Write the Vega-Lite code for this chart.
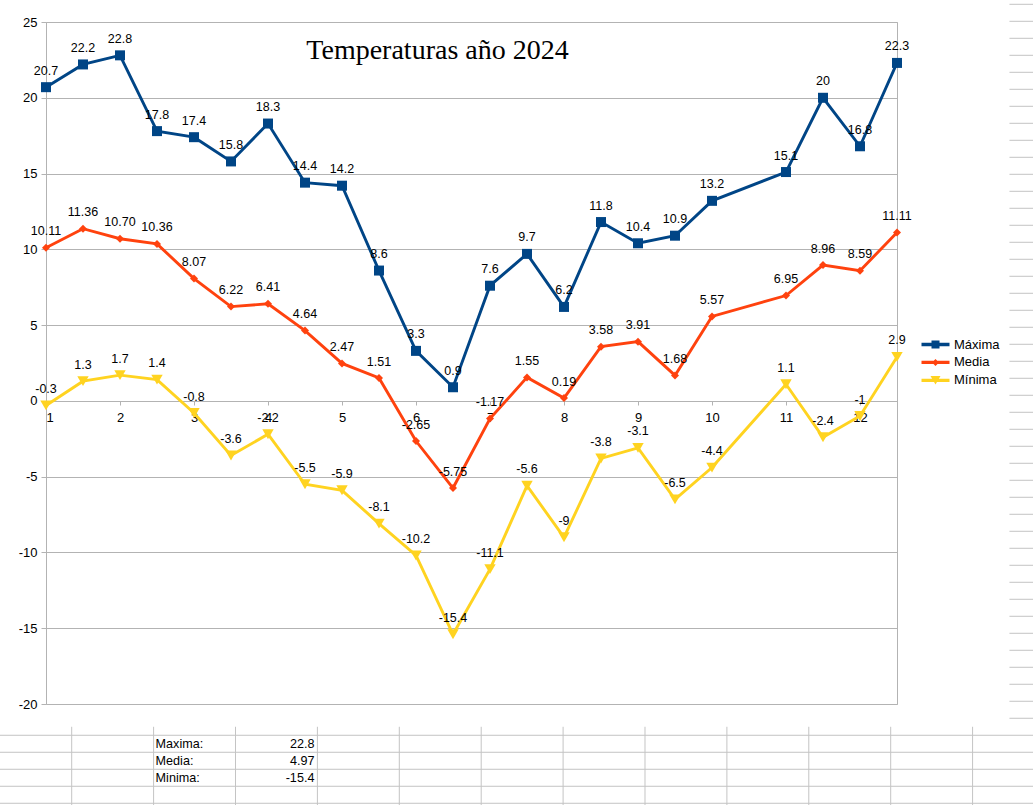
{
  "$schema": "https://vega.github.io/schema/vega-lite/v6.json",
  "width": 851,
  "height": 682,
  "autosize": {"type": "none"},
  "padding": {"left": 46, "top": 22, "right": 136, "bottom": 101},
  "background": "white",
  "title": {
    "text": "Temperaturas año 2024",
    "font": "Liberation Serif",
    "fontSize": 28,
    "fontWeight": "normal",
    "color": "#000000",
    "anchor": "middle",
    "frame": "group",
    "offset": -52,
    "dx": -34,
    "dy": 9
  },
  "layer": [
    {
      "layer": [
        {
          "data": {"values": [{"fila": 43}, {"fila": 44}, {"fila": 45}, {"fila": 46}, {"fila": 47}]},
          "mark": {"type": "rule", "color": "#c4c4c4", "strokeWidth": 1},
          "encoding": {
            "y": {"field": "fila", "type": "quantitative", "scale": {"domain": [1.041, 41.16], "reverse": true, "nice": false, "zero": false}, "axis": null},
            "x": {"datum": -1, "type": "quantitative", "scale": {"domain": [-0.3138, 10.077], "nice": false, "zero": false}, "axis": null},
            "x2": {"datum": 12.5}
          }
        },
        {
          "data": {"values": [{"fila": 0}, {"fila": 1}, {"fila": 2}, {"fila": 3}, {"fila": 4}, {"fila": 5}, {"fila": 6}, {"fila": 7}, {"fila": 8}, {"fila": 9}, {"fila": 10}, {"fila": 11}, {"fila": 12}, {"fila": 13}, {"fila": 14}, {"fila": 15}, {"fila": 16}, {"fila": 17}, {"fila": 18}, {"fila": 19}, {"fila": 20}, {"fila": 21}, {"fila": 22}, {"fila": 23}, {"fila": 24}, {"fila": 25}, {"fila": 26}, {"fila": 27}, {"fila": 28}, {"fila": 29}, {"fila": 30}, {"fila": 31}, {"fila": 32}, {"fila": 33}, {"fila": 34}, {"fila": 35}, {"fila": 36}, {"fila": 37}, {"fila": 38}, {"fila": 39}, {"fila": 40}, {"fila": 41}, {"fila": 42}]},
          "mark": {"type": "rule", "color": "#c4c4c4", "strokeWidth": 1},
          "encoding": {
            "y": {"field": "fila", "type": "quantitative", "scale": {"domain": [1.041, 41.16], "reverse": true, "nice": false, "zero": false}, "axis": null},
            "x": {"datum": 11.45, "type": "quantitative", "scale": {"domain": [-0.3138, 10.077], "nice": false, "zero": false}, "axis": null},
            "x2": {"datum": 12.5}
          }
        },
        {
          "data": {"values": [{"col": 0}, {"col": 1}, {"col": 2}, {"col": 3}, {"col": 4}, {"col": 5}, {"col": 6}, {"col": 7}, {"col": 8}, {"col": 9}, {"col": 10}, {"col": 11}]},
          "mark": {"type": "rule", "color": "#c4c4c4", "strokeWidth": 1},
          "encoding": {
            "x": {"field": "col", "type": "quantitative", "scale": {"domain": [-0.3138, 10.077], "nice": false, "zero": false}, "axis": null},
            "y": {"datum": 42.5, "type": "quantitative", "scale": {"domain": [1.041, 41.16], "reverse": true, "nice": false, "zero": false}, "axis": null},
            "y2": {"datum": 48.5}
          }
        },
        {
          "data": {"values": [
            {"fila": 43, "etiqueta": "Maxima:", "valor": "22.8"},
            {"fila": 44, "etiqueta": "Media:", "valor": "4.97"},
            {"fila": 45, "etiqueta": "Minima:", "valor": "-15.4"}
          ]},
          "mark": {"type": "text", "align": "left", "baseline": "middle", "dx": 2, "dy": 8.5, "fontSize": 12.6, "font": "Liberation Sans", "color": "#000000"},
          "encoding": {
            "y": {"field": "fila", "type": "quantitative", "scale": {"domain": [1.041, 41.16], "reverse": true, "nice": false, "zero": false}, "axis": null},
            "x": {"datum": 1, "type": "quantitative", "scale": {"domain": [-0.3138, 10.077], "nice": false, "zero": false}, "axis": null},
            "text": {"field": "etiqueta", "type": "nominal"}
          }
        },
        {
          "data": {"values": [
            {"fila": 43, "etiqueta": "Maxima:", "valor": "22.8"},
            {"fila": 44, "etiqueta": "Media:", "valor": "4.97"},
            {"fila": 45, "etiqueta": "Minima:", "valor": "-15.4"}
          ]},
          "mark": {"type": "text", "align": "right", "baseline": "middle", "dx": -3, "dy": 8.5, "fontSize": 12.6, "font": "Liberation Sans", "color": "#000000"},
          "encoding": {
            "y": {"field": "fila", "type": "quantitative", "scale": {"domain": [1.041, 41.16], "reverse": true, "nice": false, "zero": false}, "axis": null},
            "x": {"datum": 3, "type": "quantitative", "scale": {"domain": [-0.3138, 10.077], "nice": false, "zero": false}, "axis": null},
            "text": {"field": "valor", "type": "nominal"}
          }
        }
      ]
    },
    {
      "data": {"values": [
        {"mes": 1, "serie": "Máxima", "temp": 20.7}, {"mes": 1.5, "serie": "Máxima", "temp": 22.2}, {"mes": 2, "serie": "Máxima", "temp": 22.8}, {"mes": 2.5, "serie": "Máxima", "temp": 17.8}, {"mes": 3, "serie": "Máxima", "temp": 17.4}, {"mes": 3.5, "serie": "Máxima", "temp": 15.8}, {"mes": 4, "serie": "Máxima", "temp": 18.3}, {"mes": 4.5, "serie": "Máxima", "temp": 14.4}, {"mes": 5, "serie": "Máxima", "temp": 14.2}, {"mes": 5.5, "serie": "Máxima", "temp": 8.6}, {"mes": 6, "serie": "Máxima", "temp": 3.3}, {"mes": 6.5, "serie": "Máxima", "temp": 0.9}, {"mes": 7, "serie": "Máxima", "temp": 7.6}, {"mes": 7.5, "serie": "Máxima", "temp": 9.7}, {"mes": 8, "serie": "Máxima", "temp": 6.2}, {"mes": 8.5, "serie": "Máxima", "temp": 11.8}, {"mes": 9, "serie": "Máxima", "temp": 10.4}, {"mes": 9.5, "serie": "Máxima", "temp": 10.9}, {"mes": 10, "serie": "Máxima", "temp": 13.2}, {"mes": 11, "serie": "Máxima", "temp": 15.1}, {"mes": 11.5, "serie": "Máxima", "temp": 20}, {"mes": 12, "serie": "Máxima", "temp": 16.8}, {"mes": 12.5, "serie": "Máxima", "temp": 22.3},
        {"mes": 1, "serie": "Media", "temp": 10.11}, {"mes": 1.5, "serie": "Media", "temp": 11.36}, {"mes": 2, "serie": "Media", "temp": 10.70}, {"mes": 2.5, "serie": "Media", "temp": 10.36}, {"mes": 3, "serie": "Media", "temp": 8.07}, {"mes": 3.5, "serie": "Media", "temp": 6.22}, {"mes": 4, "serie": "Media", "temp": 6.41}, {"mes": 4.5, "serie": "Media", "temp": 4.64}, {"mes": 5, "serie": "Media", "temp": 2.47}, {"mes": 5.5, "serie": "Media", "temp": 1.51}, {"mes": 6, "serie": "Media", "temp": -2.65}, {"mes": 6.5, "serie": "Media", "temp": -5.75}, {"mes": 7, "serie": "Media", "temp": -1.17}, {"mes": 7.5, "serie": "Media", "temp": 1.55}, {"mes": 8, "serie": "Media", "temp": 0.19}, {"mes": 8.5, "serie": "Media", "temp": 3.58}, {"mes": 9, "serie": "Media", "temp": 3.91}, {"mes": 9.5, "serie": "Media", "temp": 1.68}, {"mes": 10, "serie": "Media", "temp": 5.57}, {"mes": 11, "serie": "Media", "temp": 6.95}, {"mes": 11.5, "serie": "Media", "temp": 8.96}, {"mes": 12, "serie": "Media", "temp": 8.59}, {"mes": 12.5, "serie": "Media", "temp": 11.11},
        {"mes": 1, "serie": "Mínima", "temp": -0.3}, {"mes": 1.5, "serie": "Mínima", "temp": 1.3}, {"mes": 2, "serie": "Mínima", "temp": 1.7}, {"mes": 2.5, "serie": "Mínima", "temp": 1.4}, {"mes": 3, "serie": "Mínima", "temp": -0.8}, {"mes": 3.5, "serie": "Mínima", "temp": -3.6}, {"mes": 4, "serie": "Mínima", "temp": -2.2}, {"mes": 4.5, "serie": "Mínima", "temp": -5.5}, {"mes": 5, "serie": "Mínima", "temp": -5.9}, {"mes": 5.5, "serie": "Mínima", "temp": -8.1}, {"mes": 6, "serie": "Mínima", "temp": -10.2}, {"mes": 6.5, "serie": "Mínima", "temp": -15.4}, {"mes": 7, "serie": "Mínima", "temp": -11.1}, {"mes": 7.5, "serie": "Mínima", "temp": -5.6}, {"mes": 8, "serie": "Mínima", "temp": -9}, {"mes": 8.5, "serie": "Mínima", "temp": -3.8}, {"mes": 9, "serie": "Mínima", "temp": -3.1}, {"mes": 9.5, "serie": "Mínima", "temp": -6.5}, {"mes": 10, "serie": "Mínima", "temp": -4.4}, {"mes": 11, "serie": "Mínima", "temp": 1.1}, {"mes": 11.5, "serie": "Mínima", "temp": -2.4}, {"mes": 12, "serie": "Mínima", "temp": -1}, {"mes": 12.5, "serie": "Mínima", "temp": 2.9}
      ]},
      "encoding": {
        "x": {
          "field": "mes", "type": "quantitative",
          "scale": {"domain": [1, 12.5], "nice": false, "zero": false},
          "axis": {"title": null, "values": [1, 2, 3, 4, 5, 6, 7, 8, 9, 10, 11, 12], "format": "d", "offset": -303, "domain": false, "grid": false, "ticks": true, "tickSize": 4, "tickColor": "#b3b3b3", "labelPadding": 6, "labelFontSize": 13, "labelColor": "#000000", "labelFont": "Liberation Sans"}
        },
        "y": {
          "field": "temp", "type": "quantitative",
          "scale": {"domain": [-20, 25], "nice": false, "zero": false},
          "axis": {"title": null, "values": [-20, -15, -10, -5, 0, 5, 10, 15, 20, 25], "domain": false, "grid": true, "gridColor": "#b3b3b3", "ticks": true, "tickSize": 5, "tickColor": "#b3b3b3", "labelPadding": 4, "labelFontSize": 13, "labelColor": "#000000", "labelFont": "Liberation Sans"}
        }
      },
      "layer": [
        {
          "mark": {"type": "line", "strokeWidth": 2.9},
          "encoding": {
            "color": {"field": "serie", "type": "nominal", "scale": {"domain": ["Máxima", "Media", "Mínima"], "range": ["#004586", "#ff420e", "#ffd320"]}}
          }
        },
        {
          "mark": {"type": "point", "filled": true, "opacity": 1, "strokeWidth": 0},
          "encoding": {
            "color": {
              "field": "serie", "type": "nominal",
              "scale": {"domain": ["Máxima", "Media", "Mínima"], "range": ["#004586", "#ff420e", "#ffd320"]},
              "legend": {
                "orient": "none", "legendX": 883, "legendY": 316, "title": null, "padding": 0,
                "symbolSize": 100, "labelOffset": 12, "rowPadding": 3.9,
                "symbolType": {"expr": "datum.value === 'Máxima' ? 'M-2.8,-0.33H2.8V0.33H-2.8Z M-0.8,-0.8H0.8V0.8H-0.8Z' : datum.value === 'Media' ? 'M-2.8,-0.33H2.8V0.33H-2.8Z M-0.7,0L0,-0.7L0.7,0L0,0.7Z' : 'M-2.8,-0.33H2.8V0.33H-2.8Z M-1,-0.85L1,-0.85L0,0.85Z'"},
                "symbolStrokeWidth": 0,
                "symbolOpacity": 1,
                "labelFontSize": 13, "labelFont": "Liberation Sans", "labelColor": "#000000"
              }
            },
            "shape": {"condition": [{"test": "datum.serie === 'Máxima'", "value": "square"}, {"test": "datum.serie === 'Media'", "value": "diamond"}], "value": "triangle-down"},
            "size": {"condition": [{"test": "datum.serie === 'Media'", "value": 64}, {"test": "datum.serie === 'Mínima'", "value": 130}], "value": 100}
          }
        },
        {
          "transform": [{"filter": "datum.serie === 'Media'"}],
          "mark": {"type": "text", "dy": -16.5, "fontSize": 12.5, "font": "Liberation Sans", "color": "#000000"},
          "encoding": {"text": {"field": "temp", "type": "quantitative", "format": ".2f"}}
        },
        {
          "transform": [{"filter": "datum.serie !== 'Media'"}],
          "mark": {"type": "text", "dy": -16.5, "fontSize": 12.5, "font": "Liberation Sans", "color": "#000000"},
          "encoding": {"text": {"field": "temp", "type": "quantitative"}}
        }
      ]
    }
  ],
  "resolve": {"scale": {"x": "independent", "y": "independent"}, "axis": {"x": "independent", "y": "independent"}},
  "config": {
    "font": "Liberation Sans",
    "view": {"stroke": "#b3b3b3", "strokeWidth": 1},
    "locale": {"number": {"decimal": ".", "thousands": ",", "grouping": [3], "currency": ["$", ""], "minus": "-"}}
  }
}
